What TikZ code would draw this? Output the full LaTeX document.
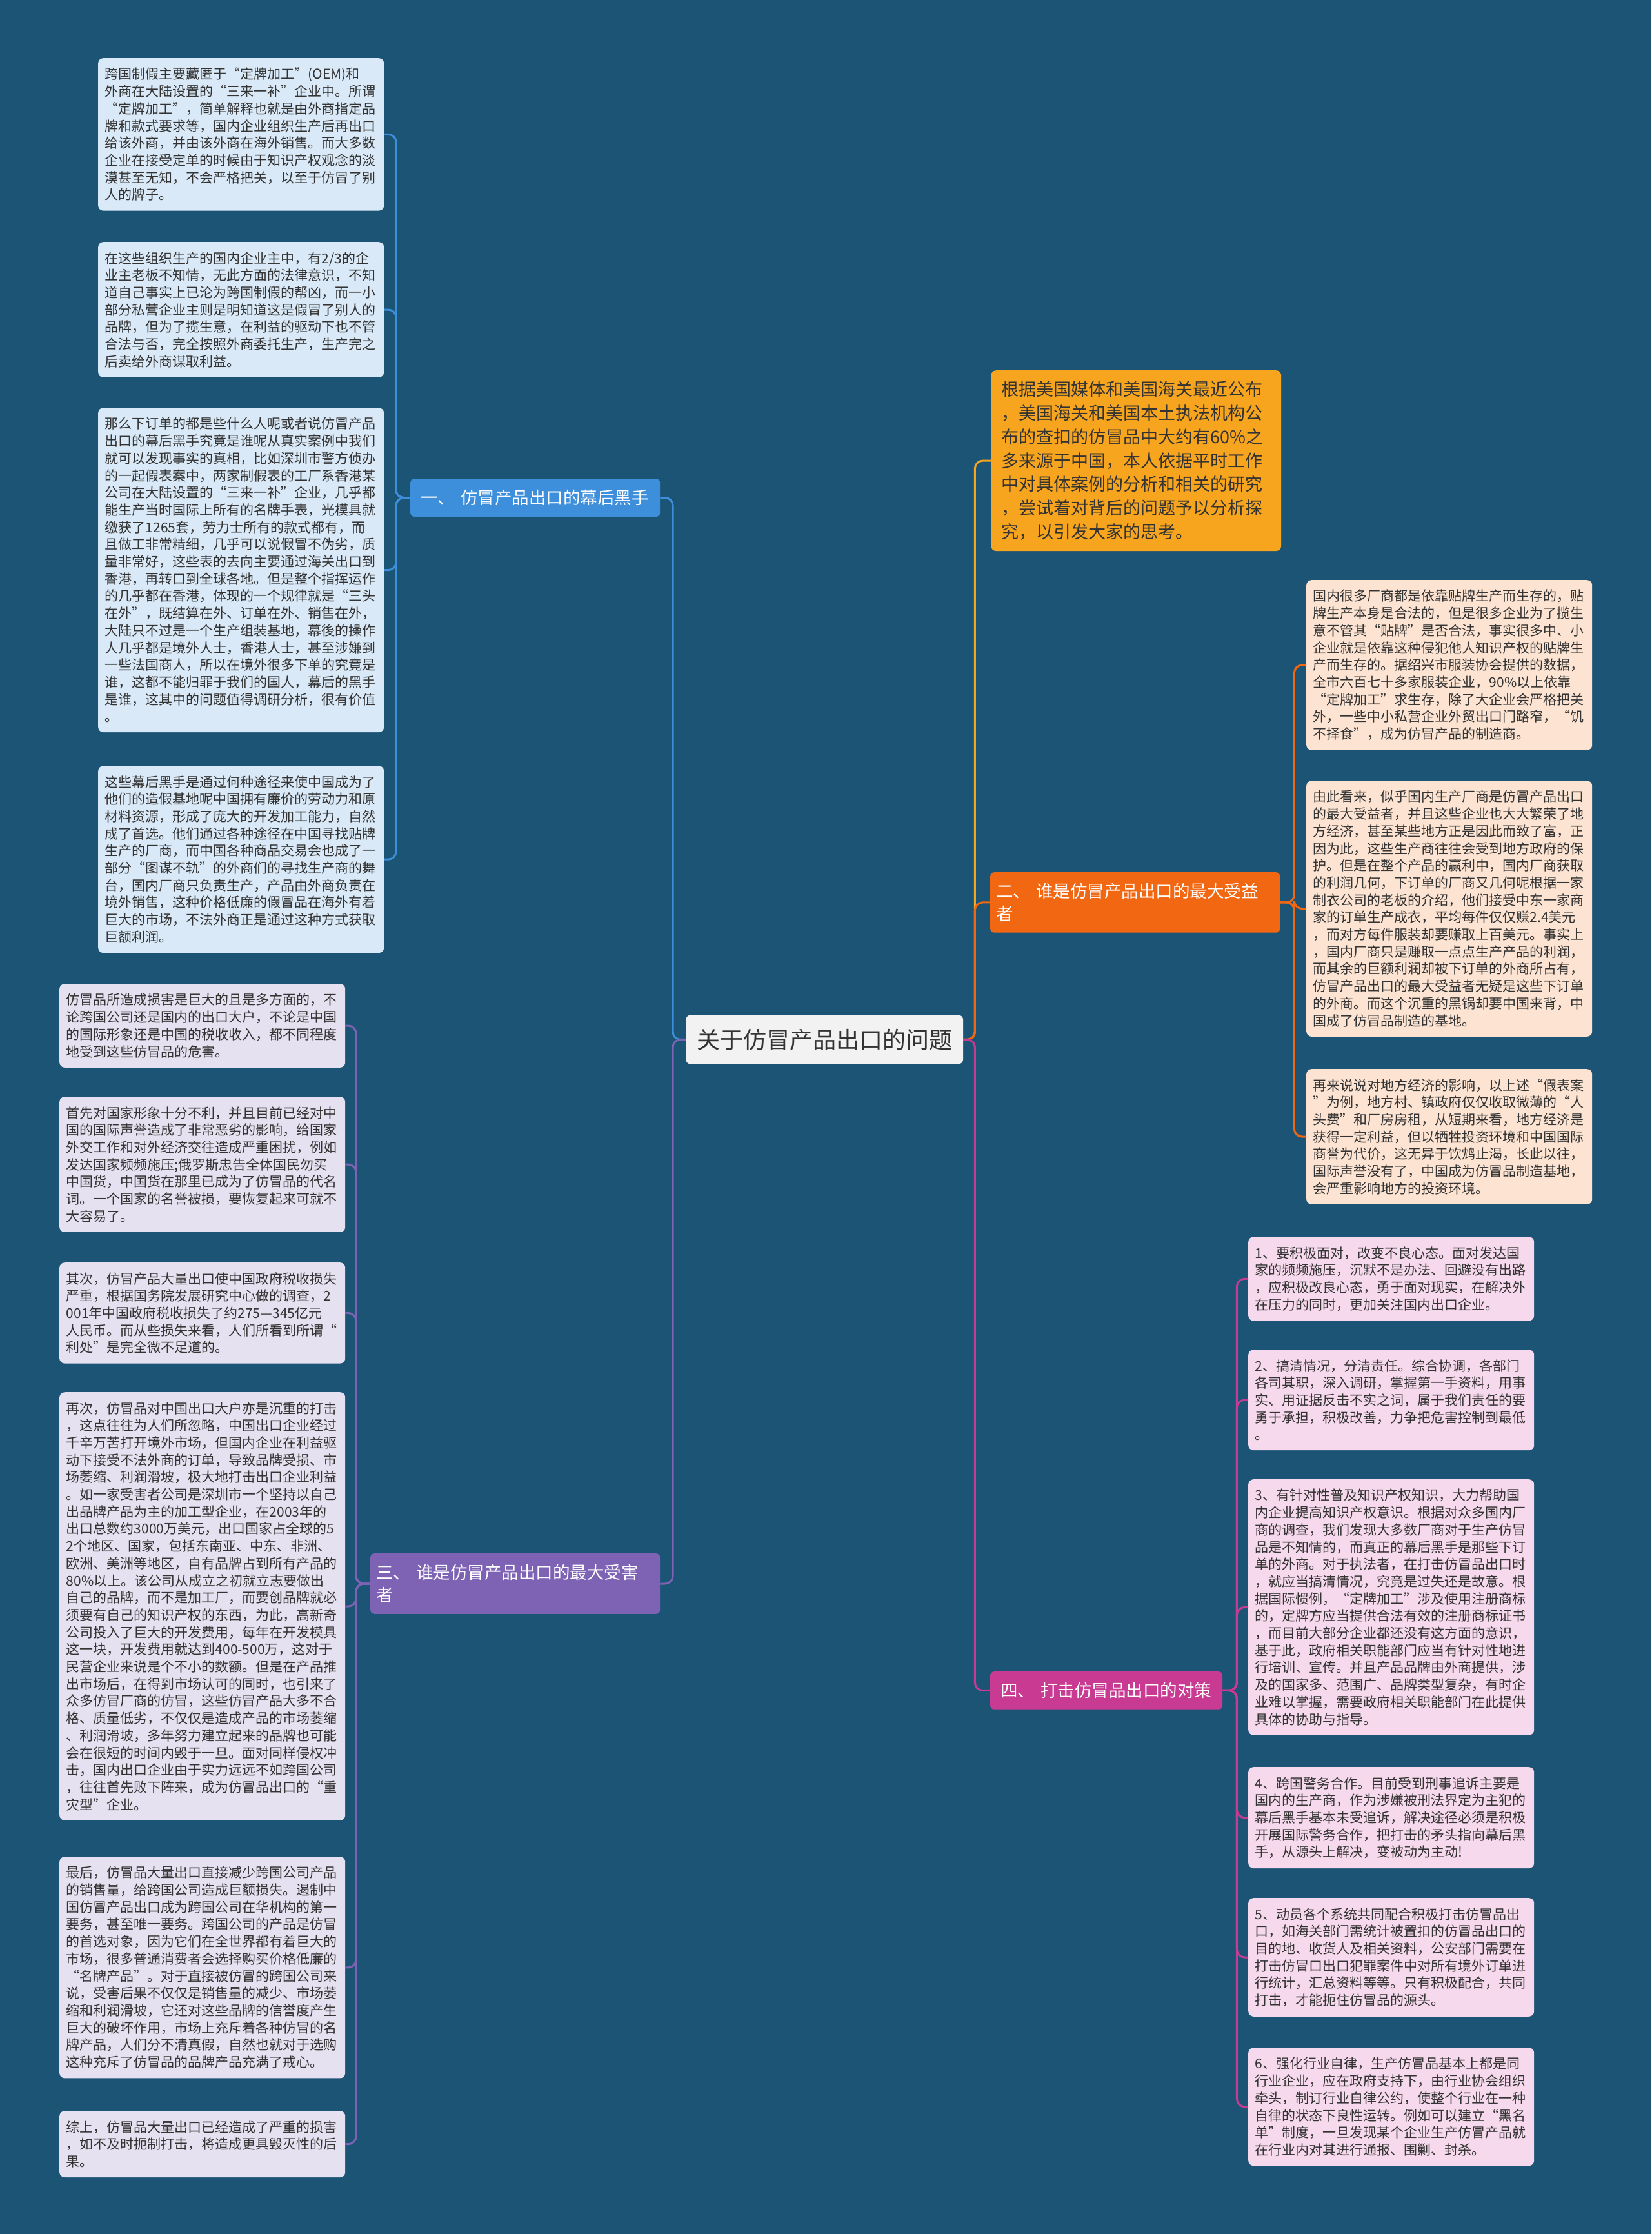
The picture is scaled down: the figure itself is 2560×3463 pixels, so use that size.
\documentclass[tikz,border=0pt]{standalone}
\usepackage{fontspec}
\usepackage{tikz}
\usepackage{xcolor}
\usetikzlibrary{positioning, calc}
\newfontfamily\cjk{Noto Sans CJK SC}
\definecolor{pagebg}{HTML}{1C5476}
\definecolor{inkgray}{HTML}{333333}
\definecolor{topicfill}{HTML}{F2F2F2}
\definecolor{introfill}{HTML}{F7A51E}
\definecolor{blueline}{HTML}{3D8EDB}
\definecolor{bluefill}{HTML}{D9E9F7}
\definecolor{redline}{HTML}{F26711}
\definecolor{peachfill}{HTML}{FDE4D2}
\definecolor{purpleline}{HTML}{7E63B5}
\definecolor{lilacfill}{HTML}{E6E1F0}
\definecolor{pinkline}{HTML}{C93A92}
\definecolor{pinkfill}{HTML}{F6D9EC}

\begin{document}
\begin{tikzpicture}[x=1pt, y=-1pt,
            leafnote/.style={anchor=north west, rounded corners=8pt, align=left, text width=422pt, inner xsep=10.5pt, inner ysep=15pt, text=inkgray, font=\cjk\fontsize{21}{26.7}\selectfont},
            mainbranch/.style={anchor=north west, rounded corners=6pt, align=left, inner xsep=16pt, inner ysep=17pt, text=white, font=\cjk\fontsize{26.5}{35}\selectfont},
            topicbox/.style={anchor=north west, rounded corners=8pt, fill=topicfill, inner xsep=17pt, inner ysep=21.5pt, text=inkgray, font=\cjk\fontsize{36}{43}\selectfont},
            wire/.style={line width=3pt, rounded corners=12pt}]
            \fill[pagebg] (0,0) rectangle (2560,3463);
            % centre and main branches
            \node[topicbox] (topic) at (1063,1573) {关于仿冒产品出口的问题};
            \node[mainbranch, fill=blueline, text width=355pt] (b1) at (636,742) {一、 仿冒产品出口的幕后黑手};
            \node[mainbranch, fill=redline, text width=431pt, inner xsep=9pt] (b2) at (1535,1352) {二、 谁是仿冒产品出口的最大受益\\者};
            \node[mainbranch, fill=purpleline, text width=431pt, inner xsep=9pt] (b3) at (574,2408) {三、 谁是仿冒产品出口的最大受害\\者};
            \node[mainbranch, fill=pinkline, text width=328pt] (b4) at (1535,2591) {四、 打击仿冒品出口的对策};
            \node[leafnote, fill=introfill, text width=418pt, inner xsep=16pt, inner ysep=17pt, font=\cjk\fontsize{27}{36.7}\selectfont] (intro) at (1536,574) {根据美国媒体和美国海关最近公布\\
，美国海关和美国本土执法机构公\\
布的查扣的仿冒品中大约有60\%之\\
多来源于中国，本人依据平时工作\\
中对具体案例的分析和相关的研究\\
，尝试着对背后的问题予以分析探\\
究，以引发大家的思考。};
            % branch one
            \node[leafnote, fill=bluefill] (l1) at (152,90) {跨国制假主要藏匿于“定牌加工”(OEM)和\\
外商在大陆设置的“三来一补”企业中。所谓\\
“定牌加工”，简单解释也就是由外商指定品\\
牌和款式要求等，国内企业组织生产后再出口\\
给该外商，并由该外商在海外销售。而大多数\\
企业在接受定单的时候由于知识产权观念的淡\\
漠甚至无知，不会严格把关，以至于仿冒了别\\
人的牌子。};
            \node[leafnote, fill=bluefill] (l2) at (152,375) {在这些组织生产的国内企业主中，有2/3的企\\
业主老板不知情，无此方面的法律意识，不知\\
道自己事实上已沦为跨国制假的帮凶，而一小\\
部分私营企业主则是明知道这是假冒了别人的\\
品牌，但为了揽生意，在利益的驱动下也不管\\
合法与否，完全按照外商委托生产，生产完之\\
后卖给外商谋取利益。};
            \node[leafnote, fill=bluefill] (l3) at (152,632) {那么下订单的都是些什么人呢或者说仿冒产品\\
出口的幕后黑手究竟是谁呢从真实案例中我们\\
就可以发现事实的真相，比如深圳市警方侦办\\
的一起假表案中，两家制假表的工厂系香港某\\
公司在大陆设置的“三来一补”企业，几乎都\\
能生产当时国际上所有的名牌手表，光模具就\\
缴获了1265套，劳力士所有的款式都有，而\\
且做工非常精细，几乎可以说假冒不伪劣，质\\
量非常好，这些表的去向主要通过海关出口到\\
香港，再转口到全球各地。但是整个指挥运作\\
的几乎都在香港，体现的一个规律就是“三头\\
在外”，既结算在外、订单在外、销售在外，\\
大陆只不过是一个生产组装基地，幕後的操作\\
人几乎都是境外人士，香港人士，甚至涉嫌到\\
一些法国商人，所以在境外很多下单的究竟是\\
谁，这都不能归罪于我们的国人，幕后的黑手\\
是谁，这其中的问题值得调研分析，很有价值\\
。};
            \node[leafnote, fill=bluefill] (l4) at (152,1187) {这些幕后黑手是通过何种途径来使中国成为了\\
他们的造假基地呢中国拥有廉价的劳动力和原\\
材料资源，形成了庞大的开发加工能力，自然\\
成了首选。他们通过各种途径在中国寻找贴牌\\
生产的厂商，而中国各种商品交易会也成了一\\
部分“图谋不轨”的外商们的寻找生产商的舞\\
台，国内厂商只负责生产，产品由外商负责在\\
境外销售，这种价格低廉的假冒品在海外有着\\
巨大的市场，不法外商正是通过这种方式获取\\
巨额利润。};
            % branch two
            \node[leafnote, fill=peachfill] (p1) at (2025,899) {国内很多厂商都是依靠贴牌生产而生存的，贴\\
牌生产本身是合法的，但是很多企业为了揽生\\
意不管其“贴牌”是否合法，事实很多中、小\\
企业就是依靠这种侵犯他人知识产权的贴牌生\\
产而生存的。据绍兴市服装协会提供的数据，\\
全市六百七十多家服装企业，90\%以上依靠\\
“定牌加工”求生存，除了大企业会严格把关\\
外，一些中小私营企业外贸出口门路窄，“饥\\
不择食”，成为仿冒产品的制造商。};
            \node[leafnote, fill=peachfill] (p2) at (2025,1210) {由此看来，似乎国内生产厂商是仿冒产品出口\\
的最大受益者，并且这些企业也大大繁荣了地\\
方经济，甚至某些地方正是因此而致了富，正\\
因为此，这些生产商往往会受到地方政府的保\\
护。但是在整个产品的赢利中，国内厂商获取\\
的利润几何，下订单的厂商又几何呢根据一家\\
制衣公司的老板的介绍，他们接受中东一家商\\
家的订单生产成衣，平均每件仅仅赚2.4美元\\
，而对方每件服装却要赚取上百美元。事实上\\
，国内厂商只是赚取一点点生产产品的利润，\\
而其余的巨额利润却被下订单的外商所占有，\\
仿冒产品出口的最大受益者无疑是这些下订单\\
的外商。而这个沉重的黑锅却要中国来背，中\\
国成了仿冒品制造的基地。};
            \node[leafnote, fill=peachfill] (p3) at (2025,1657) {再来说说对地方经济的影响，以上述“假表案\\
”为例，地方村、镇政府仅仅收取微薄的“人\\
头费”和厂房房租，从短期来看，地方经济是\\
获得一定利益，但以牺牲投资环境和中国国际\\
商誉为代价，这无异于饮鸩止渴，长此以往，\\
国际声誉没有了，中国成为仿冒品制造基地，\\
会严重影响地方的投资环境。};
            % branch three
            \node[leafnote, fill=lilacfill] (h1) at (92,1525) {仿冒品所造成损害是巨大的且是多方面的，不\\
论跨国公司还是国内的出口大户，不论是中国\\
的国际形象还是中国的税收收入，都不同程度\\
地受到这些仿冒品的危害。};
            \node[leafnote, fill=lilacfill] (h2) at (92,1700) {首先对国家形象十分不利，并且目前已经对中\\
国的国际声誉造成了非常恶劣的影响，给国家\\
外交工作和对外经济交往造成严重困扰，例如\\
发达国家频频施压;俄罗斯忠告全体国民勿买\\
中国货，中国货在那里已成为了仿冒品的代名\\
词。一个国家的名誉被损，要恢复起来可就不\\
大容易了。};
            \node[leafnote, fill=lilacfill] (h3) at (92,1957) {其次，仿冒产品大量出口使中国政府税收损失\\
严重，根据国务院发展研究中心做的调查，2\\
001年中国政府税收损失了约275—345亿元\\
人民币。而从些损失来看，人们所看到所谓“\\
利处”是完全微不足道的。};
            \node[leafnote, fill=lilacfill] (h4) at (92,2158) {再次，仿冒品对中国出口大户亦是沉重的打击\\
，这点往往为人们所忽略，中国出口企业经过\\
千辛万苦打开境外市场，但国内企业在利益驱\\
动下接受不法外商的订单，导致品牌受损、市\\
场萎缩、利润滑坡，极大地打击出口企业利益\\
。如一家受害者公司是深圳市一个坚持以自己\\
出品牌产品为主的加工型企业，在2003年的\\
出口总数约3000万美元，出口国家占全球的5\\
2个地区、国家，包括东南亚、中东、非洲、\\
欧洲、美洲等地区，自有品牌占到所有产品的\\
80\%以上。该公司从成立之初就立志要做出\\
自己的品牌，而不是加工厂，而要创品牌就必\\
须要有自己的知识产权的东西，为此，高新奇\\
公司投入了巨大的开发费用，每年在开发模具\\
这一块，开发费用就达到400-500万，这对于\\
民营企业来说是个不小的数额。但是在产品推\\
出市场后，在得到市场认可的同时，也引来了\\
众多仿冒厂商的仿冒，这些仿冒产品大多不合\\
格、质量低劣，不仅仅是造成产品的市场萎缩\\
、利润滑坡，多年努力建立起来的品牌也可能\\
会在很短的时间内毁于一旦。面对同样侵权冲\\
击，国内出口企业由于实力远远不如跨国公司\\
，往往首先败下阵来，成为仿冒品出口的“重\\
灾型”企业。};
            \node[leafnote, fill=lilacfill] (h5) at (92,2878) {最后，仿冒品大量出口直接减少跨国公司产品\\
的销售量，给跨国公司造成巨额损失。遏制中\\
国仿冒产品出口成为跨国公司在华机构的第一\\
要务，甚至唯一要务。跨国公司的产品是仿冒\\
的首选对象，因为它们在全世界都有着巨大的\\
市场，很多普通消费者会选择购买价格低廉的\\
“名牌产品”。对于直接被仿冒的跨国公司来\\
说，受害后果不仅仅是销售量的减少、市场萎\\
缩和利润滑坡，它还对这些品牌的信誉度产生\\
巨大的破坏作用，市场上充斥着各种仿冒的名\\
牌产品，人们分不清真假，自然也就对于选购\\
这种充斥了仿冒品的品牌产品充满了戒心。};
            \node[leafnote, fill=lilacfill] (h6) at (92,3272) {综上，仿冒品大量出口已经造成了严重的损害\\
，如不及时扼制打击，将造成更具毁灭性的后\\
果。};
            % branch four
            \node[leafnote, fill=pinkfill] (k1) at (1935,1917) {1、要积极面对，改变不良心态。面对发达国\\
家的频频施压，沉默不是办法、回避没有出路\\
，应积极改良心态，勇于面对现实，在解决外\\
在压力的同时，更加关注国内出口企业。};
            \node[leafnote, fill=pinkfill] (k2) at (1935,2092) {2、搞清情况，分清责任。综合协调，各部门\\
各司其职，深入调研，掌握第一手资料，用事\\
实、用证据反击不实之词，属于我们责任的要\\
勇于承担，积极改善，力争把危害控制到最低\\
。};
            \node[leafnote, fill=pinkfill] (k3) at (1935,2293) {3、有针对性普及知识产权知识，大力帮助国\\
内企业提高知识产权意识。根据对众多国内厂\\
商的调查，我们发现大多数厂商对于生产仿冒\\
品是不知情的，而真正的幕后黑手是那些下订\\
单的外商。对于执法者，在打击仿冒品出口时\\
，就应当搞清情况，究竟是过失还是故意。根\\
据国际惯例，“定牌加工”涉及使用注册商标\\
的，定牌方应当提供合法有效的注册商标证书\\
，而目前大部分企业都还没有这方面的意识，\\
基于此，政府相关职能部门应当有针对性地进\\
行培训、宣传。并且产品品牌由外商提供，涉\\
及的国家多、范围广、品牌类型复杂，有时企\\
业难以掌握，需要政府相关职能部门在此提供\\
具体的协助与指导。};
            \node[leafnote, fill=pinkfill] (k4) at (1935,2739) {4、跨国警务合作。目前受到刑事追诉主要是\\
国内的生产商，作为涉嫌被刑法界定为主犯的\\
幕后黑手基本未受追诉，解决途径必须是积极\\
开展国际警务合作，把打击的矛头指向幕后黑\\
手，从源头上解决，变被动为主动!};
            \node[leafnote, fill=pinkfill] (k5) at (1935,2942) {5、动员各个系统共同配合积极打击仿冒品出\\
口，如海关部门需统计被置扣的仿冒品出口的\\
目的地、收货人及相关资料，公安部门需要在\\
打击仿冒口出口犯罪案件中对所有境外订单进\\
行统计，汇总资料等等。只有积极配合，共同\\
打击，才能扼住仿冒品的源头。};
            \node[leafnote, fill=pinkfill] (k6) at (1935,3174) {6、强化行业自律，生产仿冒品基本上都是同\\
行业企业，应在政府支持下，由行业协会组织\\
牵头，制订行业自律公约，使整个行业在一种\\
自律的状态下良性运转。例如可以建立“黑名\\
单”制度，一旦发现某个企业生产仿冒产品就\\
在行业内对其进行通报、围剿、封杀。};
            % connectors
            \draw[wire, blueline] (topic.west) -- ++(-20,0) |- (b1.east);
            \draw[wire, purpleline] (topic.west) -- ++(-20,0) |- (b3.east);
            \draw[wire, introfill] (topic.east) -- ++(18,0) |- (intro.west);
            \draw[wire, redline] (topic.east) -- ++(18,0) |- (b2.west);
            \draw[wire, pinkline] (topic.east) -- ++(18,0) |- (b4.west);
            \draw[wire, blueline] (b1.west) -- ++(-22,0) |- (l1.east);
            \draw[wire, blueline] (b1.west) -- ++(-22,0) |- (l2.east);
            \draw[wire, blueline] (b1.west) -- ++(-22,0) |- (l3.east);
            \draw[wire, blueline] (b1.west) -- ++(-22,0) |- (l4.east);
            \draw[wire, redline] (b2.east) -- ++(22,0) |- (p1.west);
            \draw[wire, redline] (b2.east) -- ++(22,0) |- (p2.west);
            \draw[wire, redline] (b2.east) -- ++(22,0) |- (p3.west);
            \draw[wire, purpleline] (b3.west) -- ++(-22,0) |- (h1.east);
            \draw[wire, purpleline] (b3.west) -- ++(-22,0) |- (h2.east);
            \draw[wire, purpleline] (b3.west) -- ++(-22,0) |- (h3.east);
            \draw[wire, purpleline] (b3.west) -- ++(-22,0) |- (h4.east);
            \draw[wire, purpleline] (b3.west) -- ++(-22,0) |- (h5.east);
            \draw[wire, purpleline] (b3.west) -- ++(-22,0) |- (h6.east);
            \draw[wire, pinkline] (b4.east) -- ++(22,0) |- (k1.west);
            \draw[wire, pinkline] (b4.east) -- ++(22,0) |- (k2.west);
            \draw[wire, pinkline] (b4.east) -- ++(22,0) |- (k3.west);
            \draw[wire, pinkline] (b4.east) -- ++(22,0) |- (k4.west);
            \draw[wire, pinkline] (b4.east) -- ++(22,0) |- (k5.west);
            \draw[wire, pinkline] (b4.east) -- ++(22,0) |- (k6.west);
        \end{tikzpicture}
\end{document}
